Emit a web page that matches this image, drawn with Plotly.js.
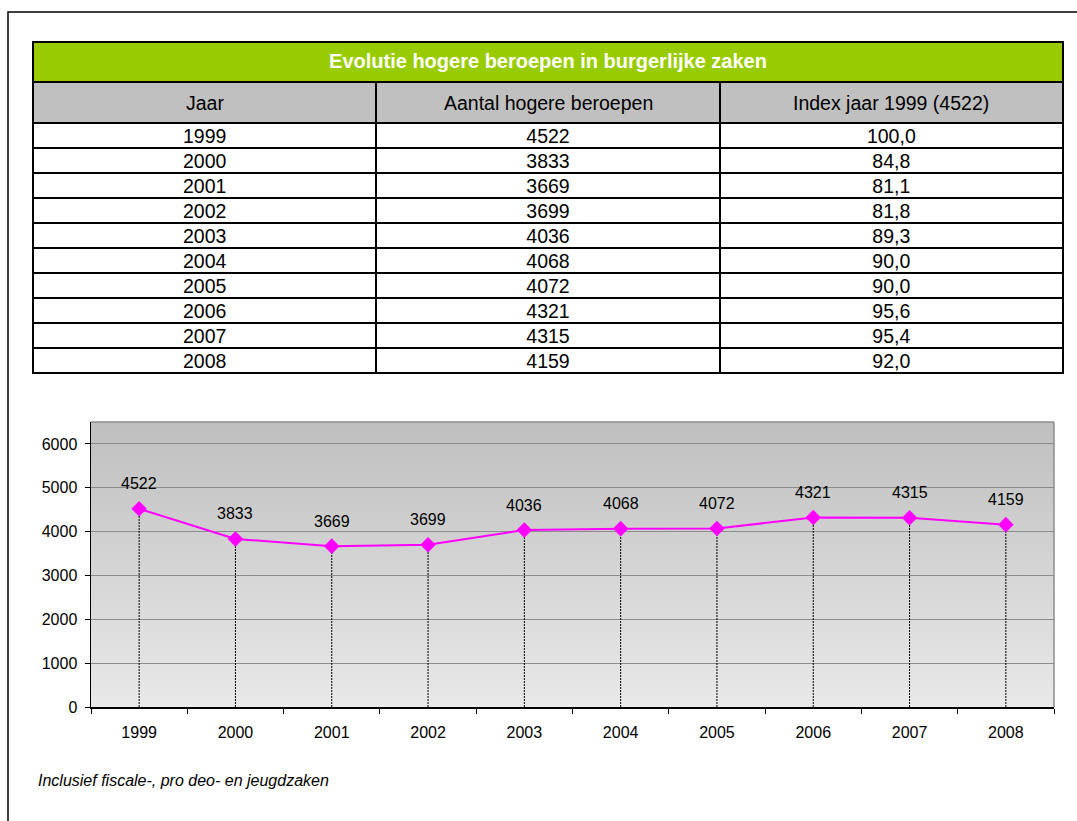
<!DOCTYPE html>
<html>
<head>
<meta charset="utf-8">
<script src="https://cdn.plot.ly/plotly-3.0.1.min.js"></script>
<style>
  html, body { margin: 0; padding: 0; background: #ffffff; }
  #chart { width: 1077px; height: 821px; }
</style>
</head>
<body>
<div id="chart"></div>
<script>
// ---- Data ----
const years = ['1999', '2000', '2001', '2002', '2003', '2004', '2005', '2006', '2007', '2008'];
const counts = [4522, 3833, 3669, 3699, 4036, 4068, 4072, 4321, 4315, 4159];
const indexValues = [100.0, 84.8, 81.1, 81.8, 89.3, 90.0, 90.0, 95.6, 95.4, 92.0];
const tableTitle = 'Evolutie hogere beroepen in burgerlijke zaken';
const tableHeaders = ['Jaar', 'Aantal hogere beroepen', 'Index jaar 1999 (4522)'];
const yTickValues = [0, 1000, 2000, 3000, 4000, 5000, 6000];
const footnote = 'Inclusief fiscale-, pro deo- en jeugdzaken';

// ---- Helpers ----
const W = 1077, H = 821;
const px = v => v / W;
const py = v => 1 - v / H;
const FONT = 'Arial, "Liberation Sans", Helvetica, sans-serif';
const indexText = indexValues.map(v => v.toFixed(1).replace('.', ','));
const TX0 = px(33), TX1 = px(1063);
const CLEAR = 'rgba(0,0,0,0)';

const gradSvg = '<svg xmlns="http://www.w3.org/2000/svg" width="10" height="100" preserveAspectRatio="none">' +
  '<defs><linearGradient id="g" x1="0" y1="0" x2="0" y2="1">' +
  '<stop offset="0" stop-color="#bfbfbf"/><stop offset="1" stop-color="#e9e9e9"/>' +
  '</linearGradient></defs><rect width="10" height="100" fill="url(#g)"/></svg>';
const gradUri = 'data:image/svg+xml;base64,' + btoa(gradSvg);

// ---- Traces ----
const titleTable = {
  type: 'table',
  domain: { x: [TX0, TX1], y: [py(84), py(42)] },
  columnwidth: [1],
  header: {
    values: ['<b>' + tableTitle + '</b>'],
    fill: { color: '#99CC00' },
    font: { family: FONT, size: 20, color: '#ffffff' },
    align: 'center',
    height: 40,
    line: { color: '#000000', width: 2 }
  },
  cells: { values: [[]], height: 25, line: { color: '#000000', width: 2 } }
};

// grid (fills and borders) of the data table
const gridTable = {
  type: 'table',
  domain: { x: [TX0, TX1], y: [py(380), py(82)] },
  columnwidth: [1, 1, 1],
  header: {
    values: tableHeaders.map(() => ''),
    fill: { color: '#C0C0C0' },
    height: 41,
    line: { color: '#000000', width: 2 }
  },
  cells: {
    values: [years.map(() => ''), years.map(() => ''), years.map(() => '')],
    fill: { color: '#ffffff' },
    height: 25,
    line: { color: '#000000', width: 2 }
  }
};

// text layer of the data table (nudged up to be vertically centred in rows)
const textTable = {
  type: 'table',
  domain: { x: [TX0, TX1], y: [py(383), py(79)] },
  columnwidth: [1, 1, 1],
  header: {
    values: tableHeaders.map(() => ''),
    fill: { color: CLEAR },
    height: 41,
    line: { color: CLEAR, width: 0 }
  },
  cells: {
    values: [years, counts.map(String), indexText],
    fill: { color: CLEAR },
    font: { family: FONT, size: 19.5, color: '#000000' },
    align: 'center',
    height: 25,
    line: { color: CLEAR, width: 0 }
  }
};

const dropX = [], dropY = [];
years.forEach((yr, i) => { dropX.push(yr, yr, null); dropY.push(0, counts[i], null); });
const dropLines = {
  type: 'scatter', mode: 'lines',
  x: dropX, y: dropY,
  line: { color: '#000000', width: 1, dash: '2px,1px' },
  hoverinfo: 'skip', showlegend: false, connectgaps: false
};

const series = {
  type: 'scatter', mode: 'lines+markers',
  x: years, y: counts,
  line: { color: '#FF00FF', width: 2 },
  marker: { symbol: 'diamond', size: 12, color: '#FF00FF' },
  showlegend: false
};

const labelAnnotations = years.map((yr, i) => ({
  x: i, y: counts[i], xref: 'x', yref: 'y',
  text: String(counts[i]), showarrow: false,
  yshift: 25, font: { family: FONT, size: 16, color: '#000000' }
}));

const headerAnnotations = tableHeaders.map((h, i) => ({
  xref: 'paper', yref: 'paper',
  x: TX0 + (TX1 - TX0) * (i + 0.5) / tableHeaders.length, y: py(103),
  xanchor: 'center', yanchor: 'middle', showarrow: false,
  text: h, font: { family: FONT, size: 19.5, color: '#000000' }
}));

const layout = {
  width: W, height: H,
  margin: { l: 0, r: 0, t: 0, b: 0 },
  paper_bgcolor: '#ffffff',
  plot_bgcolor: CLEAR,
  font: { family: FONT, size: 16, color: '#000000' },
  showlegend: false,
  xaxis: {
    type: 'category',
    categoryorder: 'array', categoryarray: years,
    range: [-0.5, years.length - 0.5],
    autorange: false,
    domain: [px(91), px(1054)],
    anchor: 'y',
    tickson: 'boundaries',
    ticks: 'outside', ticklen: 5, tickcolor: '#000000', tickwidth: 1,
    showline: true, linecolor: '#000000', linewidth: 1.5,
    showgrid: false, zeroline: false,
    tickangle: 0,
    tickfont: { family: FONT, size: 16, color: '#000000' },
    ticklabelstandoff: 10,
    fixedrange: true
  },
  yaxis: {
    domain: [py(707), py(422)],
    anchor: 'x',
    range: [0, 6500],
    autorange: false,
    tickvals: yTickValues,
    ticks: 'outside', ticklen: 5, tickcolor: '#000000', tickwidth: 1,
    showline: true, linecolor: '#000000', linewidth: 1.5,
    showgrid: true, gridcolor: '#8c8c8c', gridwidth: 1,
    zeroline: false,
    tickfont: { family: FONT, size: 16, color: '#000000' },
    ticklabelstandoff: 4,
    fixedrange: true
  },
  images: [{
    source: gradUri, xref: 'x domain', yref: 'y domain',
    x: 0, y: 1, sizex: 1, sizey: 1, xanchor: 'left', yanchor: 'top',
    sizing: 'stretch', layer: 'below'
  }],
  shapes: [
    // outer frame
    { type: 'rect', xref: 'paper', yref: 'paper', x0: px(8), x1: px(1090), y0: py(840), y1: py(12),
      line: { color: '#000000', width: 1.5 }, fillcolor: CLEAR, layer: 'below' },
    // plot area top & right border
    { type: 'line', xref: 'x domain', yref: 'y domain', x0: 0, x1: 1, y0: 1, y1: 1,
      line: { color: '#8c8c8c', width: 1.5 } },
    { type: 'line', xref: 'x domain', yref: 'y domain', x0: 1, x1: 1, y0: 0, y1: 1,
      line: { color: '#8c8c8c', width: 1.5 } }
  ],
  annotations: labelAnnotations.concat(headerAnnotations, [{
    xref: 'paper', yref: 'paper', x: px(36), y: py(780),
    xanchor: 'left', yanchor: 'middle', showarrow: false,
    text: '<i>' + footnote + '</i>',
    font: { family: FONT, size: 16, color: '#000000' }
  }])
};

Plotly.newPlot('chart', [titleTable, gridTable, textTable, dropLines, series], layout, { displayModeBar: false, staticPlot: true });
</script>
</body>
</html>
